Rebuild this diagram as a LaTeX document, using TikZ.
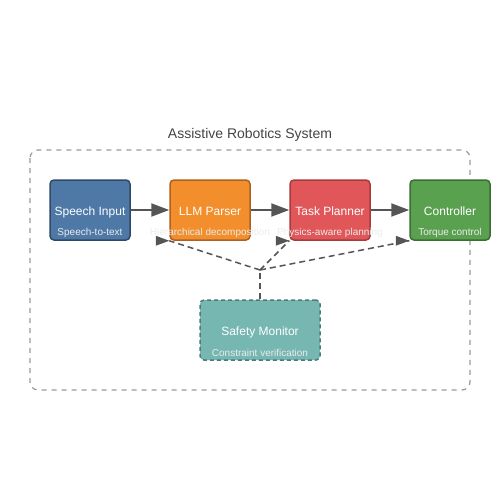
\documentclass[tikz,border=0pt]{standalone}
\usepackage{fontspec}
\setmainfont{Liberation Sans}
\usetikzlibrary{positioning,arrows.meta}

\definecolor{speechblue}{HTML}{4E79A7}
\definecolor{speechdark}{HTML}{2F4A68}
\definecolor{parserorange}{HTML}{F28E2B}
\definecolor{parserdark}{HTML}{AD6120}
\definecolor{plannerred}{HTML}{E15759}
\definecolor{plannerdark}{HTML}{A63B3D}
\definecolor{controlgreen}{HTML}{59A14F}
\definecolor{controldark}{HTML}{3A6E33}
\definecolor{safetyteal}{HTML}{76B7B2}
\definecolor{safetydark}{HTML}{4D7B78}
\definecolor{linegray}{HTML}{555555}
\definecolor{framegray}{HTML}{999999}
\definecolor{titlegray}{HTML}{444444}
\definecolor{subgray}{HTML}{EBEBEB}

\begin{document}
\begin{tikzpicture}[x=1pt,y=-1pt,>={Triangle[length=18pt,width=13pt]},node distance=120pt,
  block/.style={rectangle,rounded corners=4pt,draw,line width=1.5pt,minimum width=80pt,minimum height=60pt,inner sep=0pt,text height=10.5pt,text depth=0pt,text=white,font=\fontsize{12}{14}\selectfont},
  sub/.style={text=subgray,font=\fontsize{10}{12}\selectfont},
  flow/.style={->,line width=2pt,draw=linegray},
  watch/.style={dash pattern=on 6pt off 4pt,line width=1.5pt,draw=linegray}]

            \useasboundingbox (0,0) rectangle (500,500);

            \draw[framegray, line width=1.2pt, dash pattern=on 5pt off 5pt, rounded corners=8pt] (30,150) rectangle (470,390);
            \node[text=titlegray, font=\fontsize{14}{16}\selectfont] (title) at (250,135) {Assistive Robotics System};

            \node[block, fill=speechblue, draw=speechdark] (1) at (90,210) {Speech Input};
            \node[block, fill=parserorange, draw=parserdark] (2) [right of = 1] {LLM Parser};
            \node[block, fill=plannerred, draw=plannerdark] (3) [right of = 2] {Task Planner};
            \node[block, fill=controlgreen, draw=controldark] (4) [right of = 3] {Controller};
            \node[block, fill=safetyteal, draw=safetydark, dash pattern=on 4pt off 3pt, minimum width=120pt] (5) at (260,330) {Safety Monitor};
            \coordinate (6) at (260,270);

            \node[sub] at ([yshift=-23pt]1.center) {Speech-to-text};
            \node[sub] at ([yshift=-23pt]2.center) {Hierarchical decomposition};
            \node[sub] at ([yshift=-23pt]3.center) {Physics-aware planning};
            \node[sub] at ([yshift=-23pt]4.center) {Torque control};
            \node[sub] at ([yshift=-23pt]5.center) {Constraint verification};

            \draw[flow] (1) -- (2);
            \draw[flow] (2) -- (3);
            \draw[flow] (3) -- (4);

            \draw[watch] (5) -- (6);
            \foreach \n in {2,3,4} {
                \draw[watch] (6) -- (\n.south west);
                \fill[linegray] (\n.south west) -- ++(-13.5,-5) -- ++(0,10) -- cycle;
            }

            ;
        \end{tikzpicture}
\end{document}
